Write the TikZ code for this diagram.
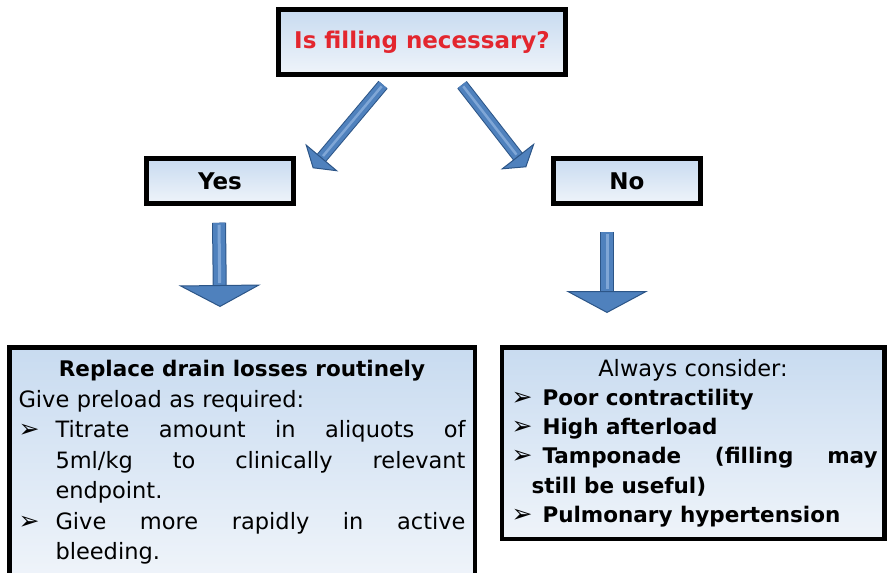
\documentclass[tikz,border=0pt]{standalone}
\usepackage{fontspec}
\setmainfont{DejaVu Sans}
\usetikzlibrary{arrows.meta,calc}
\definecolor{askred}{HTML}{E3262E}
\definecolor{boxtop}{HTML}{C8DBF0}
\definecolor{boxlow}{HTML}{EFF4FA}
\definecolor{arrowblue}{HTML}{4F81BD}
\definecolor{arrowedge}{HTML}{2C5587}
\definecolor{arrowlight}{HTML}{7FA6D6}
\newcommand{\arrbul}[1][37pt]{\makebox[#1][l]{\fontsize{25}{25}\selectfont ➢}}
\newcommand{\boldtext}{\fontsize{21.5}{30.5}\selectfont\bfseries}
\begin{document}
\begin{tikzpicture}[x=1pt,y=-1pt,
 qbox/.style={draw=black,line width=4.5pt,top color=boxtop,bottom color=boxlow,inner sep=0pt,font=\fontsize{23}{26}\selectfont\bfseries},
 textbox/.style={draw=black,line width=4.5pt,top color=boxtop,bottom color=boxlow,anchor=north,align=left,font=\fontsize{22.5}{30.5}\selectfont},
 downarrow/.style={arrowblue,line width=12pt,-{Triangle[width=82pt,length=22pt,fill=arrowblue,color=arrowedge,line width=1pt]},
   preaction={draw=arrowedge,line width=14pt,shorten >=21pt,arrows=-},
   postaction={draw=arrowlight,line width=3pt,shorten >=24pt,shorten <=2pt,arrows=-}},
 slantarrow/.style={arrowblue,line width=10pt,-{Triangle[width=43pt,length=14pt,fill=arrowblue,color=arrowedge,line width=1pt]},
   preaction={draw=arrowedge,line width=12pt,shorten >=13pt,arrows=-},
   postaction={draw=arrowlight,line width=2.5pt,shorten >=16pt,shorten <=2pt,arrows=-}}]
\useasboundingbox (0,0) rectangle (889,573);

\node[qbox,text=askred,minimum width=287,minimum height=65] (ask) at (422,42) {Is filling necessary?};
\node[qbox,minimum width=147,minimum height=45] (yes) at (220,181) {Yes};
\node[qbox,minimum width=147,minimum height=45] (no) at (627,181) {No};

\node[textbox,text width=447,inner xsep=9.25pt,inner ysep=13pt] (replace) at (242,345) {%
\makebox[\linewidth]{\boldtext Replace drain losses routinely}\\
Give preload as required:\\
\arrbul\makebox[410pt]{Titrate\hfill amount\hfill in\hfill aliquots\hfill of}\\
\hspace*{37pt}\makebox[410pt]{5ml/kg\hfill to\hfill clinically\hfill relevant}\\
\hspace*{37pt}endpoint.\\
\arrbul\makebox[410pt]{Give\hfill more\hfill rapidly\hfill in\hfill active}\\
\hspace*{37pt}bleeding.};

\node[textbox,text width=363,inner xsep=9.75pt,inner ysep=12pt,font=\fontsize{22.5}{29.2}\selectfont] (consider) at (693,345) {%
\makebox[\linewidth]{Always consider:}\\
\arrbul[31pt]{\boldtext Poor contractility}\\
\arrbul[31pt]{\boldtext High afterload}\\
\arrbul[31pt]\makebox[335pt]{\boldtext Tamponade\hfill (filling\hfill may}\\
\hspace*{20pt}{\boldtext still be useful)}\\
\arrbul[31pt]{\boldtext Pulmonary hypertension}};

% block arrows between the boxes
\draw[slantarrow] ($(ask.south)+(-39,8)$) -- ($(yes.north east)+(17,12)$);
\draw[slantarrow] ($(ask.south)+(40,8)$) -- ($(no.north west)+(-25,11)$);
\draw[downarrow] ($(yes.south)+(-1,17)$) -- ($(yes.south |- replace.north)+(0,-38)$);
\draw[downarrow] ($(no.south)+(-20,26)$) -- ($(no.south |- consider.north)+(-20,-32)$);
\end{tikzpicture}
\end{document}
